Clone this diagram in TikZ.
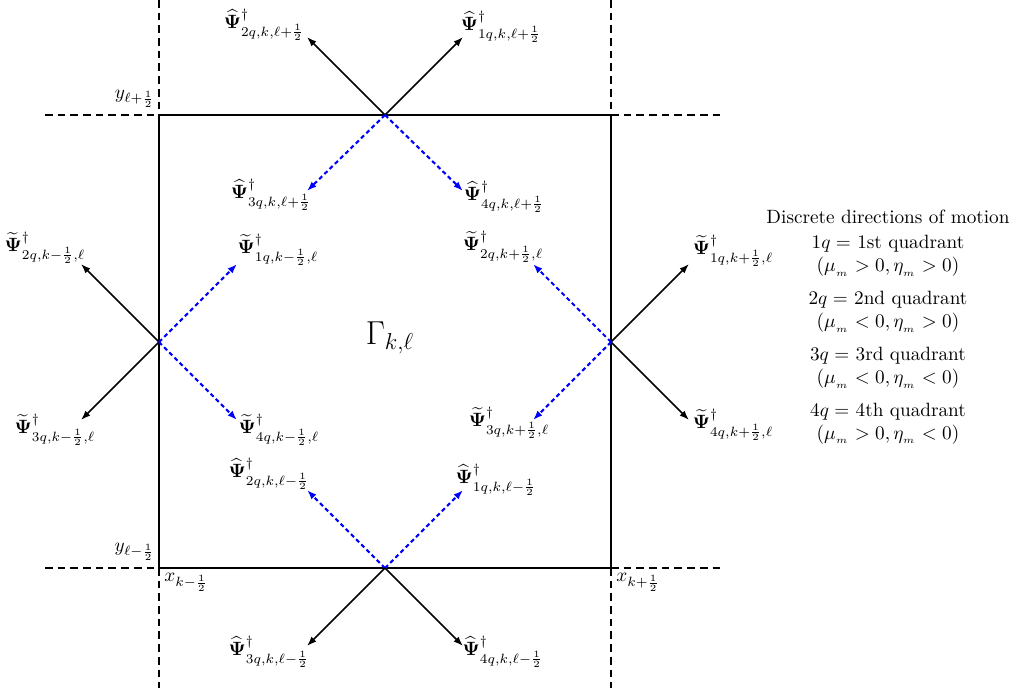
\documentclass[tikz,border=0pt]{standalone}
\usepackage{amsmath,amssymb,bm}
\usetikzlibrary{arrows.meta}
\newcommand{\hP}{\widehat{\boldsymbol{\Psi}}^{\dagger}}
\newcommand{\tP}{\widetilde{\boldsymbol{\Psi}}^{\dagger}}
\begin{document}
\begin{tikzpicture}[x=0.52pt,y=-0.52pt,
 gridline/.style={line width=0.9pt,dash pattern=on 4pt off 2.6pt},
 cell/.style={line width=1pt},
 outarr/.style={line width=0.8pt,-{Latex[length=5pt,width=3.6pt]}},
 inarr/.style={line width=1.1pt,blue,dash pattern=on 2.2pt off 1.6pt,-{Latex[length=5pt,width=3.6pt]}},
 lab/.style={inner sep=0pt}]
\useasboundingbox (0,0) rectangle (1016,688);
% grid coordinates
\coordinate (NW) at (159,115);
\coordinate (NE) at (611,115);
\coordinate (SE) at (611,568);
\coordinate (SW) at (159,568);
\coordinate (gL1) at (45,115);
\coordinate (gR1) at (725,115);
\coordinate (gL2) at (45,568);
\coordinate (gR2) at (725,568);
\coordinate (gT1) at (159,0);
\coordinate (gB1) at (159,688);
\coordinate (gT2) at (611,0);
\coordinate (gB2) at (611,688);
% dashed grid lines
\draw[gridline] (gL1) -- (NW);
\draw[gridline] (NE) -- (gR1);
\draw[gridline] (gL2) -- (SW);
\draw[gridline] (SE) -- (gR2);
\draw[gridline] (gT1) -- (NW);
\draw[gridline] (SW) -- (gB1);
\draw[gridline] (gT2) -- (NE);
\draw[gridline] (SE) -- (gB2);
% cell
\draw[cell] (NW) -- (NE) -- (SE) -- (SW) -- cycle;
% midpoints
\coordinate (T) at (385,115);
\coordinate (B) at (385,568);
\coordinate (L) at (159,342);
\coordinate (R) at (611,342);
% arrow ends
\coordinate (Ta2) at (307,37);
\coordinate (Ta1) at (463,37);
\coordinate (Ta3) at (307,191);
\coordinate (Ta4) at (463,191);
\coordinate (Ba2) at (307,490);
\coordinate (Ba1) at (463,490);
\coordinate (Ba3) at (307,646);
\coordinate (Ba4) at (463,646);
\coordinate (La2) at (81,264);
\coordinate (La3) at (81,420);
\coordinate (La1) at (237,264);
\coordinate (La4) at (237,420);
\coordinate (Ra1) at (689,264);
\coordinate (Ra4) at (689,420);
\coordinate (Ra2) at (533,264);
\coordinate (Ra3) at (533,420);
% arrows
\draw[outarr] (T) -- (Ta2);
\draw[outarr] (T) -- (Ta1);
\draw[inarr] (T) -- (Ta3);
\draw[inarr] (T) -- (Ta4);
\draw[inarr] (B) -- (Ba2);
\draw[inarr] (B) -- (Ba1);
\draw[outarr] (B) -- (Ba3);
\draw[outarr] (B) -- (Ba4);
\draw[outarr] (L) -- (La2);
\draw[outarr] (L) -- (La3);
\draw[inarr] (L) -- (La1);
\draw[inarr] (L) -- (La4);
\draw[outarr] (R) -- (Ra1);
\draw[outarr] (R) -- (Ra4);
\draw[inarr] (R) -- (Ra2);
\draw[inarr] (R) -- (Ra3);
% labels
\node[lab] (lT2) at (264,25) {$\hP_{2q,k,\ell+\frac12}$};
\node[lab] (lT1) at (501,27) {$\hP_{1q,k,\ell+\frac12}$};
\node[lab] (lT3) at (271,195) {$\hP_{3q,k,\ell+\frac12}$};
\node[lab] (lT4) at (504,197) {$\hP_{4q,k,\ell+\frac12}$};
\node[lab] (lL2) at (45,248) {$\tP_{2q,k-\frac12,\ell}$};
\node[lab] (lL1) at (278,250) {$\tP_{1q,k-\frac12,\ell}$};
\node[lab] (lL3) at (55,430) {$\tP_{3q,k-\frac12,\ell}$};
\node[lab] (lL4) at (279,430) {$\tP_{4q,k-\frac12,\ell}$};
\node[lab] (lR2) at (503,247) {$\tP_{2q,k+\frac12,\ell}$};
\node[lab] (lR1) at (733,251) {$\tP_{1q,k+\frac12,\ell}$};
\node[lab] (lR3) at (509,423) {$\tP_{3q,k+\frac12,\ell}$};
\node[lab] (lR4) at (733,425) {$\tP_{4q,k+\frac12,\ell}$};
\node[lab] (lB2) at (269,474) {$\hP_{2q,k,\ell-\frac12}$};
\node[lab] (lB1) at (496,480) {$\hP_{1q,k,\ell-\frac12}$};
\node[lab] (lB3) at (269,652) {$\hP_{3q,k,\ell-\frac12}$};
\node[lab] (lB4) at (503,652) {$\hP_{4q,k,\ell-\frac12}$};
\node[lab,anchor=south east] (ytop) at (155,108) {$y_{\ell+\frac12}$};
\node[lab,anchor=south east] (ybot) at (155,561) {$y_{\ell-\frac12}$};
\node[lab,anchor=north west] (xleft) at (164,573) {$x_{k-\frac12}$};
\node[lab,anchor=north west] (xright) at (616,573) {$x_{k+\frac12}$};
\node[lab] (gam) at (390,338) {\LARGE $\Gamma_{k,\ell}$};
\node[lab,align=center] (legend) at (888,327) {Discrete directions of motion\\[1pt]
$1q=$ 1st quadrant\\ $(\mu_{_m}>0,\eta_{_m}>0)$\\[5pt]
$2q=$ 2nd quadrant\\ $(\mu_{_m}<0,\eta_{_m}>0)$\\[5pt]
$3q=$ 3rd quadrant\\ $(\mu_{_m}<0,\eta_{_m}<0)$\\[5pt]
$4q=$ 4th quadrant\\ $(\mu_{_m}>0,\eta_{_m}<0)$};
\end{tikzpicture}
\end{document}
